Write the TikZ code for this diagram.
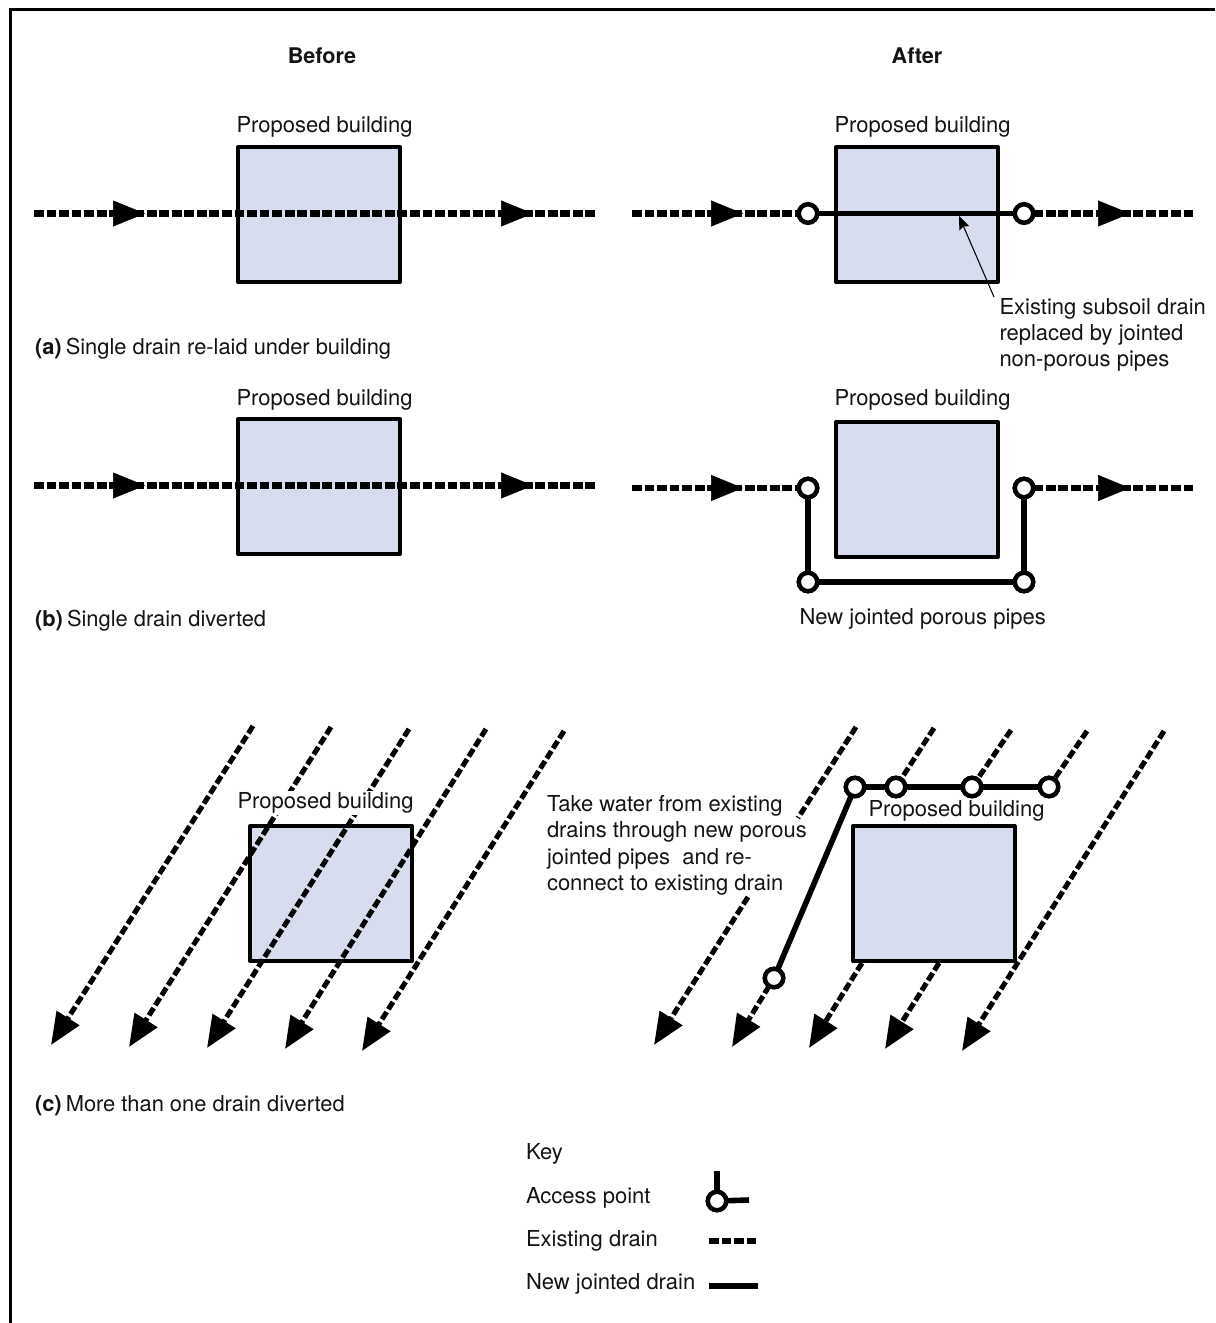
\documentclass[tikz,border=0pt]{standalone}
\usepackage{fontspec}
\setmainfont{TeX Gyre Heros}
\usetikzlibrary{arrows.meta,calc}
\definecolor{bfill}{RGB}{215,221,238}
\tikzset{
  x=0.75pt,y=-0.75pt,
  every node/.style={inner sep=0pt,outer sep=0pt,font=\fontsize{16.5}{19.75}\selectfont,text=black!92},
  lab/.style={anchor=base west},
  caplab/.style={anchor=base west,font=\fontsize{16.4}{19.75}\selectfont},
  multi/.style={anchor=north west,align=left},
  headlab/.style={anchor=base,font=\fontsize{16.2}{19.75}\selectfont\bfseries},
  bldg/.style={draw=black,fill=bfill,line width=3pt,line join=round},
  drain/.style={draw=black,line width=5pt,dash pattern=on 7.4pt off 2pt},
  ddrain/.style={draw=black,line width=3.8pt,dash pattern=on 6.5pt off 2.4pt,-{Triangle[length=24pt,width=19.5pt]}},
  newdrain/.style={draw=black,line width=4.2pt},
  flow/.style={line width=0.5pt,draw=black,-{Triangle[length=24pt,width=19.5pt]}},
  access/.style={circle,draw=black,fill=white,line width=3.3pt,minimum size=13.8pt},
  leader/.style={draw=black,line width=0.8pt,-{Stealth[length=10pt,width=8pt,inset=1.5pt]}},
  masklab/.style={lab,fill=white,text height=13pt,text depth=5pt},
}
\newcommand{\bx}[3]{\path[bldg] (#2,#3) rectangle ++(162,135); \coordinate (#1) at (#2,#3);}
\begin{document}
\begin{tikzpicture}
\useasboundingbox (0,0) rectangle (1215,1323);
% frame
\coordinate (fa) at (10.5,1323); \coordinate (fb) at (10.5,9.5); \coordinate (fc) at (1215,9.5);
\draw[line width=1.9pt] (fa) -- (fb) -- (fc);
\node[headlab] (hbefore) at (322,64) {Before};
\node[headlab] (hafter) at (917,64) {After};
% (a) before
\node[lab] (t1) at (236.5,133) {Proposed building};
\bx{ba}{238}{147}
\coordinate (a1) at (34,213.5); \coordinate (a2) at (596,213.5);
\draw[drain] (a1) -- (a2);
\coordinate (a3) at (113,213.5); \coordinate (a4) at (145,213.5);
\coordinate (a5) at (501,213.5); \coordinate (a6) at (533,213.5);
\draw[flow] (a3) -- (a4);
\draw[flow] (a5) -- (a6);
\node[caplab] (t2) at (35,354) {\textbf{(a)}\kern-1.5pt{} Single drain re-laid under building};
% (a) after
\node[lab] (t3) at (834.5,133) {Proposed building};
\bx{bb}{836}{147}
\coordinate (b1) at (632,213.5); \coordinate (b2) at (1193,213.5);
\node[access] (bc1) at (808,213.5) {};
\node[access] (bc2) at (1024,213.5) {};
\draw[drain] (b1) -- (bc1);
\draw[drain] (bc2) -- (b2);
\draw[newdrain] (bc1) -- (bc2);
\node[access] at (bc1) {};
\node[access] at (bc2) {};
\coordinate (b3) at (711,213.5); \coordinate (b4) at (743,213.5);
\coordinate (b5) at (1098,213.5); \coordinate (b6) at (1130,213.5);
\draw[flow] (b3) -- (b4);
\draw[flow] (b5) -- (b6);
\coordinate (l1) at (994,297); \coordinate (l2) at (959,216);
\draw[leader] (l1) -- (l2);
\node[multi] (t4) at (999.5,298) {Existing subsoil drain\\replaced by jointed\\non-porous pipes};
% (b) before
\node[lab] (t5) at (236.5,405) {Proposed building};
\bx{bc}{238}{419}
\coordinate (c1) at (34,485.5); \coordinate (c2) at (596,485.5);
\draw[drain] (c1) -- (c2);
\coordinate (c3) at (113,485.5); \coordinate (c4) at (145,485.5);
\coordinate (c5) at (501,485.5); \coordinate (c6) at (533,485.5);
\draw[flow] (c3) -- (c4);
\draw[flow] (c5) -- (c6);
\node[caplab] (t6) at (35,626) {\textbf{(b)}\kern-1.5pt{} Single drain diverted};
% (b) after
\node[lab] (t7) at (834.5,405) {Proposed building};
\bx{bd}{836}{422}
\coordinate (d1) at (632,488); \coordinate (d2) at (1193,488);
\node[access] (dc1) at (808,488) {};
\node[access] (dc2) at (1024,488) {};
\node[access] (dc3) at (808,582) {};
\node[access] (dc4) at (1024,582) {};
\draw[drain] (d1) -- (dc1);
\draw[drain] (dc2) -- (d2);
\draw[newdrain] (dc1) -- (dc3) -- (dc4) -- (dc2);
\foreach \n in {dc1,dc2,dc3,dc4} \node[access] at (\n) {};
\coordinate (d3) at (711,488); \coordinate (d4) at (743,488);
\coordinate (d5) at (1098,488); \coordinate (d6) at (1130,488);
\draw[flow] (d3) -- (d4);
\draw[flow] (d5) -- (d6);
\node[lab] (t8) at (799.5,624) {New jointed porous pipes};
% (c) before
\bx{be}{250}{826}
\foreach \i/\sx/\sy/\tx/\ty in {1/253/726/51/1045,2/331/727/129/1047,3/409/729/207/1048,4/486/729/285/1049,5/564/731/362/1051}{
  \coordinate (es\i) at (\sx,\sy); \coordinate (et\i) at (\tx,\ty);
  \draw[ddrain] (es\i) -- (et\i);
}
\node[masklab] (t9) at (237.5,808) {Proposed building};
\node[caplab] (t10) at (35,1111.5) {\textbf{(c)}\kern-1.5pt{} More than one drain diverted};
% (c) after
\path[bldg] (853,826) rectangle (1014.5,961); \coordinate (bf) at (853,826);
\coordinate (f1) at (856,727); \coordinate (f2) at (798,818); \coordinate (f3) at (748,897); \coordinate (f4) at (654,1045);
\draw[ddrain,-] (f1) -- (f2);
\draw[ddrain] (f3) -- (f4);
\node[access] (g0) at (855,787) {};
\node[access] (g1) at (896,787) {};
\node[access] (g2) at (972,787) {};
\node[access] (g3) at (1049,787) {};
\node[access] (g4) at (774,978) {};
\coordinate (h1) at (934,728); \coordinate (h2) at (732,1047);
\coordinate (h3) at (1011,730); \coordinate (h4) at (862,963); \coordinate (h5) at (809,1048);
\coordinate (h6) at (1087,731); \coordinate (h7) at (939,963); \coordinate (h8) at (885,1049);
\coordinate (h9) at (1164,731); \coordinate (h10) at (962,1051);
\draw[ddrain,-] (h1) -- (g1);
\draw[ddrain] (g4) -- (h2);
\draw[ddrain,-] (h3) -- (g2);
\draw[ddrain] (h4) -- (h5);
\draw[ddrain,-] (h6) -- (g3);
\draw[ddrain] (h7) -- (h8);
\draw[ddrain] (h9) -- (h10);
\draw[newdrain] (g4) -- (g0) -- (g3);
\foreach \n in {g0,g1,g2,g3,g4} \node[access] at (\n) {};
\node[lab] (t11) at (868.5,816) {Proposed building};
\node[multi] (t12) at (547,795.5) {Take water from existing\\drains through new porous\\jointed pipes\ \ and re-\\connect to existing drain};
% key
\node[lab] (k0) at (526,1159.5) {Key};
\node[lab] (k1) at (526,1203.5) {Access point};
\node[lab] (k2) at (526,1246.5) {Existing drain};
\node[lab] (k3) at (526,1289.5) {New jointed drain};
\node[access] (kc) at (717,1201) {};
\coordinate (k4) at (717,1171); \coordinate (k5) at (749,1200);
\draw[newdrain] (k4) -- (kc);
\draw[newdrain] (kc) -- (k5);
\node[access] at (kc) {};
\coordinate (k6) at (709,1241); \coordinate (k7) at (757,1241);
\coordinate (k8) at (709,1285.5); \coordinate (k9) at (758,1285.5);
\draw[drain] (k6) -- (k7);
\draw[draw=black,line width=4.5pt] (k8) -- (k9);
\end{tikzpicture}
\end{document}
